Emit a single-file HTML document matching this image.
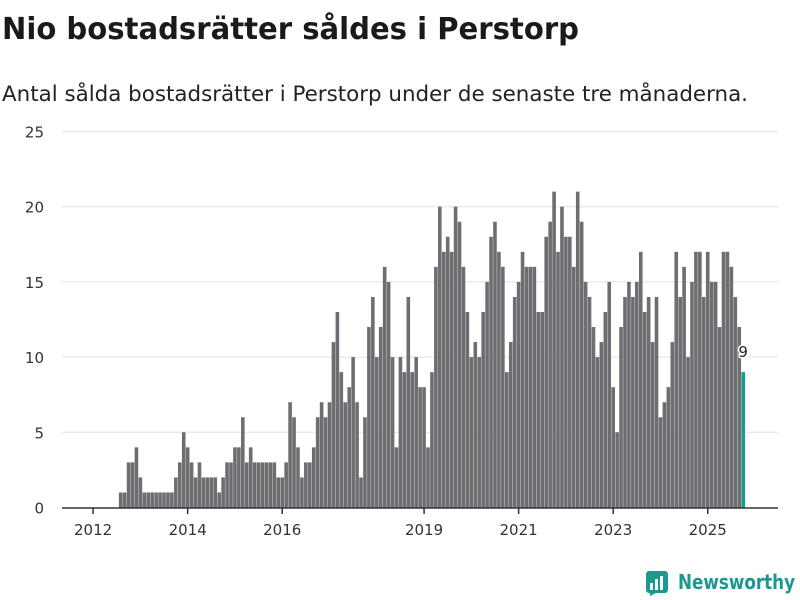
<!DOCTYPE html>
<html><head><meta charset="utf-8">
<style>
body{margin:0;background:#fff;width:800px;height:600px;overflow:hidden;font-family:"Liberation Sans","DejaVu Sans",sans-serif;}
svg{display:block}
</style></head>
<body>
<svg id="chart" width="800" height="600" viewBox="0 0 800 600" xmlns="http://www.w3.org/2000/svg">
<text x="2" y="39" font-size="30" font-weight="bold" fill="#1a1a1a" font-family="DejaVu Sans, sans-serif" textLength="577" lengthAdjust="spacingAndGlyphs">Nio bostadsrätter såldes i Perstorp</text>
<text x="2" y="101" font-size="21" fill="#222" font-family="DejaVu Sans, sans-serif" textLength="746" lengthAdjust="spacingAndGlyphs">Antal sålda bostadsrätter i Perstorp under de senaste tre månaderna.</text>
<g id="grid"></g><g id="bars"></g><g id="axis"></g>
<g>
<rect x="646" y="571" width="22" height="22" rx="3" fill="#1a9a8e"/>
<path d="M650 596 L650 590 L656 593 Z" fill="#1a9a8e"/>
<rect x="650" y="583" width="3" height="7" fill="#fff"/><rect x="655" y="579" width="3" height="11" fill="#fff"/><rect x="660" y="576" width="3" height="14" fill="#fff"/>
<text x="678" y="589" font-size="20" font-weight="bold" fill="#1a9a8e" font-family="DejaVu Sans, sans-serif" textLength="117" lengthAdjust="spacingAndGlyphs">Newsworthy</text>
</g>
</svg>
<script>
const startYear = 2012;
const values = [0,0,0,0,0,0,0,1,1,3,3,4,2,1,1,1,1,1,1,1,1,2,3,5,4,3,2,3,2,2,2,2,1,2,3,3,4,4,6,3,4,3,3,3,3,3,3,2,2,3,7,6,4,2,3,3,4,6,7,6,7,11,13,9,7,8,10,7,2,6,12,14,10,12,16,15,10,4,10,9,14,9,10,8,8,4,9,16,20,17,18,17,20,19,16,13,10,11,10,13,15,18,19,17,16,9,11,14,15,17,16,16,16,13,13,18,19,21,17,20,18,18,16,21,19,15,14,12,10,11,13,15,8,5,12,14,15,14,15,17,13,14,11,14,6,7,8,11,17,14,16,10,15,17,17,14,17,15,15,12,17,17,16,14,12,9];
const yTicks = [0,5,10,15,20,25];
const xTickYears = [2012,2014,2016,2019,2021,2023,2025];
const NS="http://www.w3.org/2000/svg";
const y0=507.5, pxPerUnit=15.04;
function ys(v){return y0 - v*pxPerUnit;}
function xs(m){return 93.1 + m*3.94;}
function mk(tag,attrs,parent){const e=document.createElementNS(NS,tag);for(const k in attrs)e.setAttribute(k,attrs[k]);parent.appendChild(e);return e;}
const grid=document.getElementById('grid'),bars=document.getElementById('bars'),axis=document.getElementById('axis');
yTicks.forEach(t=>{
  if(t>0){const l=mk('line',{x1:62,x2:778,y1:ys(t),y2:ys(t),stroke:'#e0e0e0','stroke-width':1},grid);
  
  }
  const tx=mk('text',{x:44,y:ys(t)+6,'text-anchor':'end','font-size':15,fill:'#333','font-family':'DejaVu Sans, sans-serif'},axis);
  tx.textContent=t;
  
  
});
values.forEach((v,i)=>{
  if(v<=0)return;
  const last=i===values.length-1;
  const r=mk('rect',{x:xs(i)-1.8,y:ys(v),width:3.6,height:v*pxPerUnit,fill:last?'#1a9a8e':'#6e6d72'},bars);
  
  
  if(last){const lb=mk('text',{x:xs(i),y:ys(v)-15,'text-anchor':'middle','font-size':15,fill:'#222',stroke:'#fff','stroke-width':3,'paint-order':'stroke','font-family':'DejaVu Sans, sans-serif'},bars);
  lb.textContent=v;
  
  }
});
const ax=mk('line',{x1:62,x2:778,y1:508,y2:508,stroke:'#333','stroke-width':1.5},axis);


xTickYears.forEach(yr=>{
  const m=(yr-startYear)*12, x=xs(m);
  const tk=mk('line',{x1:x,x2:x,y1:508,y2:514,stroke:'#333','stroke-width':1.5},axis);
  
  
  const t=mk('text',{x:x,y:535,'text-anchor':'middle','font-size':15,fill:'#333','font-family':'DejaVu Sans, sans-serif'},axis);
  t.textContent=yr;
  
  
});
</script>
</body></html>
